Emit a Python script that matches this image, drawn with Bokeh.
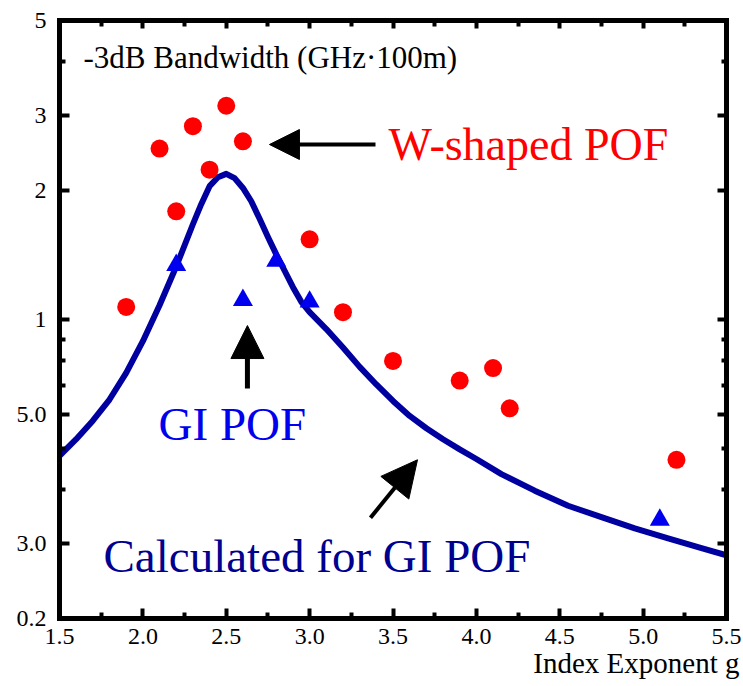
from bokeh.plotting import figure
from bokeh.models import (FixedTicker, LinearAxis, LogAxis, Label, Arrow,
                          NormalHead, Range1d, Title)
from bokeh.embed import file_html
from bokeh.resources import INLINE

# ---- data ----
g_wshaped = [1.9, 2.1, 2.2, 2.3, 2.4, 2.5, 2.6, 3.0, 3.2, 3.5, 3.9, 4.1, 4.2, 5.2]
bw_wshaped = [1.07, 2.51, 1.79, 2.83, 2.24, 3.16, 2.61, 1.54, 1.04, 0.80, 0.72, 0.77, 0.62, 0.47]

g_gi = [2.2, 2.6, 2.8, 3.0, 5.1]
bw_gi = [1.34, 1.11, 1.37, 1.10, 0.34]

g_calc = [1.5, 1.6, 1.7, 1.8, 1.9, 2.0, 2.1, 2.2, 2.3, 2.35, 2.4, 2.45, 2.5, 2.55,
          2.6, 2.65, 2.7, 2.75, 2.8, 2.85, 2.9, 2.95, 3.0, 3.1, 3.2, 3.3, 3.4, 3.5,
          3.6, 3.7, 3.8, 3.9, 4.0, 4.15, 4.35, 4.55, 4.75, 4.95, 5.15, 5.35, 5.5]
bw_calc = [0.48, 0.525, 0.58, 0.65, 0.75, 0.89, 1.08, 1.33, 1.67, 1.86, 2.05, 2.15,
           2.19, 2.14, 2.03, 1.89, 1.72, 1.56, 1.42, 1.30, 1.19, 1.10, 1.04, 0.95,
           0.86, 0.775, 0.705, 0.645, 0.595, 0.557, 0.525, 0.497, 0.472, 0.435, 0.398,
           0.367, 0.345, 0.325, 0.308, 0.292, 0.281]

x_major = [1.5, 2.0, 2.5, 3.0, 3.5, 4.0, 4.5, 5.0, 5.5]
x_minor = [1.75, 2.25, 2.75, 3.25, 3.75, 4.25, 4.75, 5.25]
x_labels = ["1.5", "2.0", "2.5", "3.0", "3.5", "4.0", "4.5", "5.0", "5.5"]
y_major = [0.2, 0.3, 0.6, 1, 2, 3, 5]
y_minor = [0.4, 0.5, 0.7, 0.8, 0.9, 4]
y_labels = ["0.2", "3.0", "5.0", "1", "2", "3", "5"]

FONT = "Liberation Serif"
NAVY = "#0000a0"

p = figure(width=743, height=686, x_range=Range1d(1.5, 5.5), y_range=Range1d(0.2, 5),
           y_axis_type="log", output_backend="svg", toolbar_location=None,
           min_border_left=59, min_border_right=17, min_border_top=20, min_border_bottom=68)
p.grid.visible = False
p.outline_line_color = None
p.background_fill_color = "white"
p.border_fill_color = "white"


def style_axis(ax, tick_len=10, minor_len=6, line=True):
    ax.axis_line_width = 5
    ax.axis_line_color = "black" if line else None
    ax.axis_line_cap = "square"
    ax.major_tick_in = tick_len
    ax.major_tick_out = 0
    ax.minor_tick_in = minor_len
    ax.minor_tick_out = 0
    ax.major_tick_line_width = 4
    ax.minor_tick_line_width = 4
    ax.major_tick_line_color = "black"
    ax.minor_tick_line_color = "black"
    ax.major_label_text_font = FONT
    ax.major_label_text_font_size = "24px"
    ax.major_label_text_color = "black"


xa = p.xaxis[0]
xa.ticker = FixedTicker(ticks=x_major, minor_ticks=x_minor)
xa.major_label_overrides = {float(v): s for v, s in zip(x_major, x_labels)}
style_axis(xa)
xa.major_label_standoff = 10

ya = p.yaxis[0]
ya.ticker = FixedTicker(ticks=y_major, minor_ticks=y_minor)
ya.major_label_overrides = {float(v): s for v, s in zip(y_major, y_labels)}
style_axis(ya)
ya.major_label_standoff = 13

# x-axis title, right aligned under the axis
p.add_layout(Title(text="Index Exponent g", align="right", offset=-13, standoff=0,
                   vertical_align="top",
                   text_font=FONT, text_font_size="29px", text_font_style="normal",
                   text_color="black"), "below")

# frame sides on top and right: unlabeled axes carrying only tick marks
top_a = LinearAxis(ticker=FixedTicker(ticks=[], minor_ticks=x_major))
style_axis(top_a, minor_len=8)
top_a.major_label_standoff = 0
p.add_layout(top_a, "above")
top_b = LinearAxis(ticker=FixedTicker(ticks=[], minor_ticks=x_minor))
style_axis(top_b, minor_len=6, line=False)
top_b.major_label_standoff = 0
p.add_layout(top_b, "above")

right_a = LogAxis(ticker=FixedTicker(ticks=[], minor_ticks=y_major))
style_axis(right_a, minor_len=9)
right_a.major_label_standoff = 0
p.add_layout(right_a, "right")
right_b = LogAxis(ticker=FixedTicker(ticks=[], minor_ticks=y_minor))
style_axis(right_b, minor_len=5, line=False)
right_b.major_label_standoff = 0
p.add_layout(right_b, "right")

# calculated curve
p.line(g_calc, bw_calc, line_color=NAVY, line_width=6, line_join="round")
# W-shaped POF
p.scatter(g_wshaped, bw_wshaped, marker="circle", size=18, fill_color="#ff0000",
          line_color=None)
# GI POF
p.scatter(g_gi, bw_gi, marker="triangle", size=20, fill_color="#0000ee", line_color=None)

# arrows
p.add_layout(Arrow(end=NormalHead(size=30, fill_color="black", line_color="black"),
                   x_start=3.395, y_start=2.565, x_end=2.759, y_end=2.565,
                   line_width=4, line_color="black"))
p.add_layout(Arrow(end=NormalHead(size=33, fill_color="black", line_color="black"),
                   x_start=2.627, y_start=0.69, x_end=2.627, y_end=0.968,
                   line_width=5, line_color="black"))
p.add_layout(Arrow(end=NormalHead(size=36, fill_color="black", line_color="black"),
                   x_start=3.365, y_start=0.344, x_end=3.647, y_end=0.470,
                   line_width=4, line_color="black"))

# texts
p.add_layout(Label(x=1.644, y=4.09, text="-3dB Bandwidth (GHz·100m)", text_font=FONT,
                   text_font_size="31px", text_color="black", text_baseline="alphabetic"))
p.add_layout(Label(x=3.473, y=2.56, text="W-shaped POF", text_font=FONT,
                   text_font_size="46px", text_color="#ff0000", text_baseline="alphabetic"))
p.add_layout(Label(x=2.094, y=0.57, text="GI POF", text_font=FONT,
                   text_font_size="47px", text_color="#0000ee", text_baseline="alphabetic"))
p.add_layout(Label(x=1.764, y=0.28, text="Calculated for GI POF", text_font=FONT,
                   text_font_size="47px", text_color="#000090", text_baseline="alphabetic"))

open("out.html", "w").write(file_html(p, INLINE))
